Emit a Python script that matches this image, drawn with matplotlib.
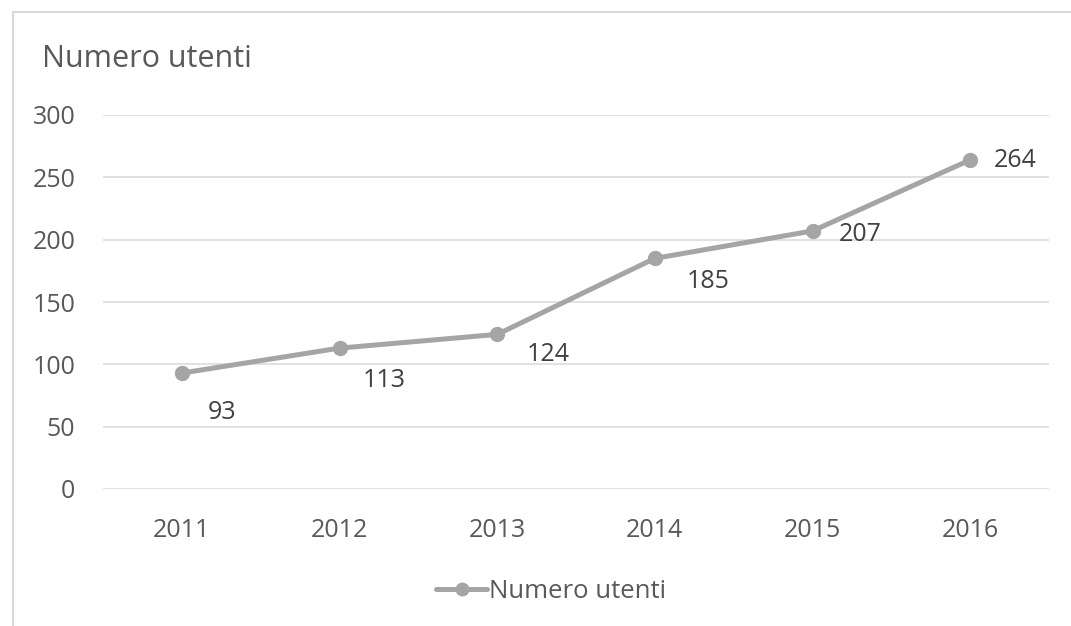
import matplotlib
matplotlib.use("Agg")
import matplotlib.pyplot as plt
from matplotlib.patches import Rectangle

years = ["2011", "2012", "2013", "2014", "2015", "2016"]
users = [93, 113, 124, 185, 207, 264]
yticks = [0, 50, 100, 150, 200, 250, 300]
title = "Numero utenti"
series_name = "Numero utenti"

# label offsets in pixels (dx, dy), style only
label_offsets = [(40, -39), (45, -32), (51, -20), (53, -23), (48, -4), (45, -1)]

plt.rcParams['font.family'] = ['Open Sans', 'DejaVu Sans']
W, H = 1071, 626
fig = plt.figure(figsize=(W / 100, H / 100), dpi=100)
fig.patch.set_facecolor("white")

# outer chart border
fig.patches.append(Rectangle((13 / W, -0.1), 1.2, (H - 12) / H + 0.1, transform=fig.transFigure,
                             fill=False, edgecolor="#D9D9D9", linewidth=1.5, zorder=0))

left, right = 103 / W, 1049 / W
bottom, top = 1 - 489 / H, 1 - 115 / H
ax = fig.add_axes([left, bottom, right - left, top - bottom])
x = list(range(len(years)))
grey = "#A5A5A5"
ax.plot(x, users, color=grey, linewidth=3.6, marker="o", markersize=10,
        label=series_name, solid_capstyle="round", zorder=3)
ax.set_xlim(-0.5, len(years) - 0.5)
ax.set_ylim(0, 300)
ax.set_yticks(yticks)
ax.set_xticks(x)
ax.set_xticklabels(years)
ax.grid(axis="y", color="#D9D9D9", linewidth=1.1)
ax.set_axisbelow(True)
for s in ax.spines.values():
    s.set_visible(False)
ax.tick_params(length=0, labelsize=18, labelcolor="#595959")
ax.tick_params(axis="y", pad=20)
ax.tick_params(axis="x", pad=21)

for xi, v, (dx, dy) in zip(x, users, label_offsets):
    ax.annotate(str(v), (xi, v), xytext=(dx * 0.72, dy * 0.72), textcoords="offset points",
                ha="center", va="center", fontsize=18, color="#404040")

fig.text(42 / W, 1 - 67 / H, title, ha="left", va="baseline", fontsize=22, color="#595959")

leg = fig.legend(loc="center", bbox_to_anchor=(551 / W, 1 - 591 / H), frameon=False,
                 fontsize=18.5, handlelength=2.0, handletextpad=0.05, markerscale=0.9)
for t in leg.get_texts():
    t.set_color("#595959")

fig.savefig("out.png", dpi=100, facecolor="white")
